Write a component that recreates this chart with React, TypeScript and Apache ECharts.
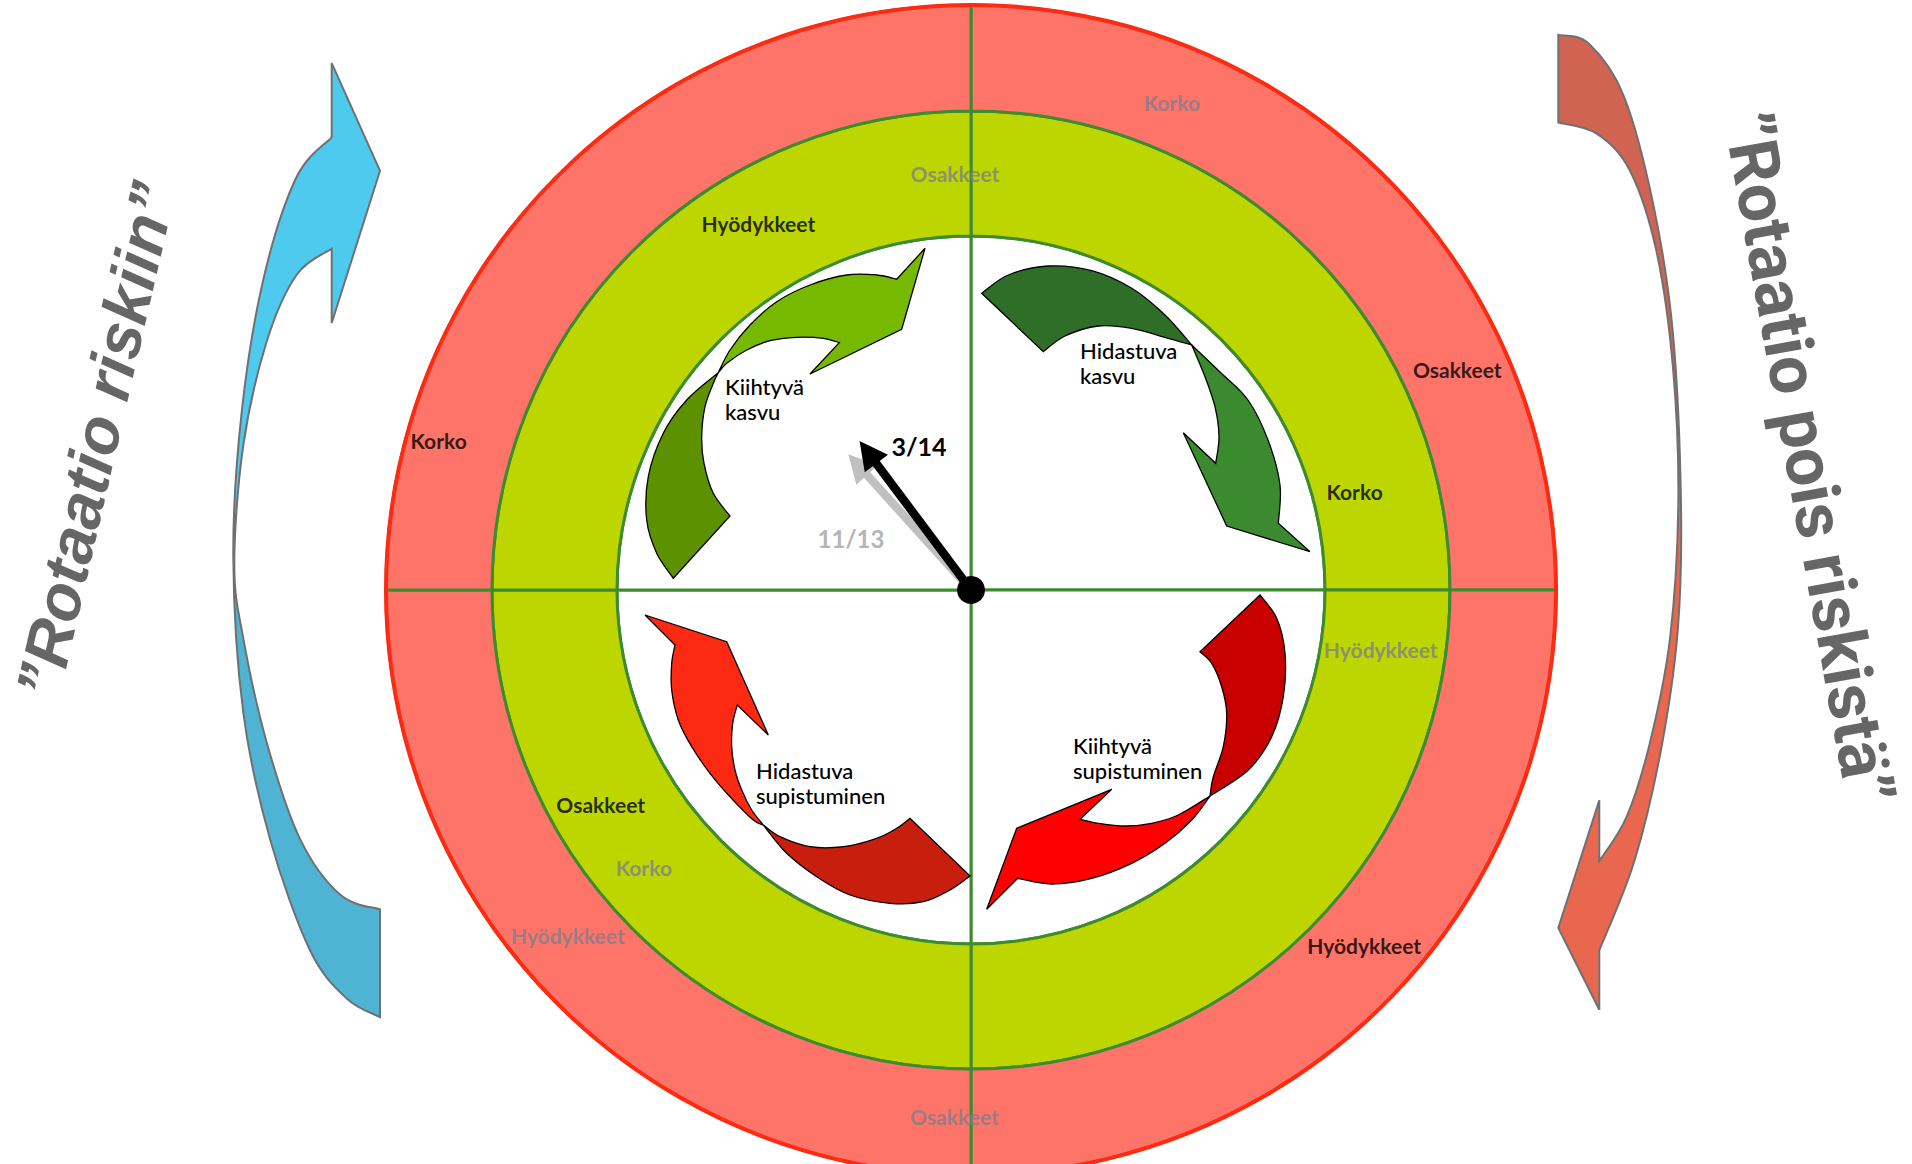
import React, { useEffect, useRef } from 'react';
import * as echarts from 'echarts';

// ---------- data ----------
const ringNames = ['Keskus', 'Sisärengas', 'Ulkorengas'];
const quadrantNames = ['Hidastuva kasvu', 'Kiihtyvä supistuminen', 'Hidastuva supistuminen', 'Kiihtyvä kasvu'];
const quadrantValues = [1, 1, 1, 1];

const assetNames = ['Korko', 'Osakkeet', 'Hyödykkeet', 'Osakkeet', 'Korko', 'Korko', 'Hyödykkeet', 'Osakkeet', 'Korko', 'Hyödykkeet', 'Hyödykkeet', 'Osakkeet'];
const assetAngles = [67.6, 92.2, 120.1, 24.4, 164.3, 14.4, 351.8, 210.1, 220.3, 220.6, 317.9, 268.2];
const assetRadii = [527, 417, 424, 534, 553, 396, 414, 428, 429, 531, 530, 527];
const assetHighlighted = [false, false, true, true, true, true, false, true, false, false, true, false];

const phaseNames = ['Kiihtyvä\nkasvu', 'Hidastuva\nkasvu', 'Kiihtyvä\nsupistuminen', 'Hidastuva\nsupistuminen'];

const handLabels = ['11/13', '3/14'];
const handAnglesDeg = [42.1, 36.8]; // counter-clockwise from 12 o'clock

const sideTexts = ['”Rotaatio riskiin”', '”Rotaatio pois riskistä”'];

// ---------- layout ----------
const CX = 971;
const CY = 590;
const RING_RADII: [number, number][] = [[0, 354], [354, 479], [479, 585]];
const RING_COLORS = ['#ffffff', '#bed600', '#fe7468'];
const LINE_GREEN = '#3e8b2f';
const GRAY_LABEL = '#7f7f8e';

const PHASE_POS: [number, number][] = [[725, 399], [1080, 363], [1073, 758], [756, 783]];
const HAND_LEN = [183, 186];
const HAND_COLORS = ['#c0c0c0', '#000000'];
const HAND_LABEL_POS: [number, number][] = [[851, 538], [919, 446]];
const SIDE_POS: [number, number, number, string][] = [
  [96, 440, 1.345, 'italic bold 64px "Liberation Sans", Arial, sans-serif'],
  [1808, 458, -1.393, 'bold 68px Roboto, "Liberation Sans", sans-serif'],
];

type P = [number, number];
type Seg = { t: 'L' | 'S'; p: P[] };

const ARROWS: { fill: any; stroke: string; lw: number; segs: Seg[] }[] = [
  // Kiihtyvä kasvu (dark tail)
  {
    fill: '#5e9100', stroke: '#000', lw: 1.3, segs: [
      { t: 'L', p: [[673.3, 578.3], [730, 516]] },
      { t: 'S', p: [[730, 516], [713.3, 493.3], [704, 463.3], [701.7, 436.7], [705, 406.7], [713.3, 383.3], [718.3, 372.7]] },
      { t: 'S', p: [[718.3, 372.7], [686.7, 400], [663.3, 433.3], [648.3, 476.7], [646.7, 520], [656.7, 553.3], [673.3, 578.3]] },
    ],
  },
  // Kiihtyvä kasvu (light head)
  {
    fill: '#77b800', stroke: '#000', lw: 1.3, segs: [
      { t: 'S', p: [[718.3, 372.7], [730, 350], [750, 325], [776.7, 301.7], [810, 285], [846.7, 275], [876.7, 275], [896.7, 279.3]] },
      { t: 'L', p: [[896.7, 279.3], [925, 248.3], [901.7, 329.3], [810, 374], [839.3, 342.7]] },
      { t: 'S', p: [[839.3, 342.7], [823.3, 338.3], [796.7, 337.3], [770, 340.7], [746.7, 350], [726.7, 363.3], [718.3, 372.7]] },
    ],
  },
  // Hidastuva kasvu (dark tail)
  {
    fill: '#2f6e28', stroke: '#000', lw: 1.3, segs: [
      { t: 'S', p: [[981.7, 293.3], [1008.3, 275], [1048.3, 266], [1091.7, 270.7], [1131.7, 288.3], [1165, 315], [1191.7, 345]] },
      { t: 'S', p: [[1191.7, 345], [1165, 337.3], [1131.7, 328.3], [1098.3, 326], [1065, 336], [1043.3, 351.7]] },
      { t: 'L', p: [[1043.3, 351.7], [981.7, 293.3]] },
    ],
  },
  // Hidastuva kasvu (head)
  {
    fill: '#3b8a30', stroke: '#000', lw: 1.3, segs: [
      { t: 'S', p: [[1191.7, 345], [1220, 372], [1248, 400], [1268, 440], [1280, 485], [1278.3, 523.3]] },
      { t: 'L', p: [[1278.3, 523.3], [1310, 551.7], [1226.7, 526], [1183.3, 432.7], [1215.7, 463.3]] },
      { t: 'S', p: [[1215.7, 463.3], [1219, 436.7], [1215, 406.7], [1205, 376.7], [1191.7, 345]] },
    ],
  },
  // Kiihtyvä supistuminen (dark tail)
  {
    fill: '#c80000', stroke: '#000', lw: 1.3, segs: [
      { t: 'S', p: [[1260, 595], [1276.7, 618.3], [1285, 653.3], [1283.3, 696.7], [1271.7, 736.7], [1248.3, 770], [1210, 796]] },
      { t: 'S', p: [[1210, 796], [1213.3, 776.7], [1223.3, 746.7], [1226.7, 713.3], [1221.7, 686.7], [1211.7, 663.3], [1200, 651.7]] },
      { t: 'L', p: [[1200, 651.7], [1260, 595]] },
    ],
  },
  // Kiihtyvä supistuminen (head)
  {
    fill: '#ff0000', stroke: '#000', lw: 1.3, segs: [
      { t: 'S', p: [[1210, 796], [1191.7, 820], [1165, 843.3], [1131.7, 863.3], [1091.7, 878.3], [1051.7, 884], [1017.7, 878.3]] },
      { t: 'L', p: [[1017.7, 878.3], [986.7, 909.3], [1016.7, 828.3], [1111.7, 789.3], [1080, 819.3]] },
      { t: 'S', p: [[1080, 819.3], [1098.3, 823.3], [1125, 826], [1151.7, 823.3], [1178.3, 815], [1210, 796]] },
    ],
  },
  // Hidastuva supistuminen (head)
  {
    fill: '#fc2a12', stroke: '#000', lw: 1.3, segs: [
      { t: 'L', p: [[645, 615], [726.7, 641.7], [768.3, 735], [737.3, 705]] },
      { t: 'S', p: [[737.3, 705], [732.7, 723.3], [731.7, 746.7], [735, 770], [741.7, 790], [751.7, 810], [763.3, 825]] },
      { t: 'S', p: [[763.3, 825], [753.3, 820], [730, 796.7], [710, 773.3], [691.7, 746.7], [678.3, 720], [671.7, 690], [671.7, 663.3], [675, 645]] },
      { t: 'L', p: [[675, 645], [645, 615]] },
    ],
  },
  // Hidastuva supistuminen (dark tail)
  {
    fill: '#c81e0e', stroke: '#000', lw: 1.3, segs: [
      { t: 'S', p: [[763.3, 825], [780, 836.7], [810, 846.7], [843.3, 846.7], [876.7, 838.3], [896.7, 828.3], [910, 818.3]] },
      { t: 'L', p: [[910, 818.3], [970, 876]] },
      { t: 'S', p: [[970, 876], [950, 890], [923.3, 901.7], [890, 903.3], [850, 895], [816.7, 876.7], [786.7, 853.3], [763.3, 825]] },
    ],
  },
  // left blue arrow
  {
    fill: {
      type: 'linear', x: 0, y: 0, x2: 0, y2: 1,
      colorStops: [
        { offset: 0, color: '#4fcaef' }, { offset: 0.52, color: '#4fcaef' },
        { offset: 0.52, color: '#4fb3d4' }, { offset: 1, color: '#4fb3d4' },
      ],
    },
    stroke: '#707070', lw: 2, segs: [
      { t: 'L', p: [[331.7, 63.1], [380, 170.8], [331.7, 323], [331.7, 248.7]] },
      { t: 'S', p: [[331.7, 248.7], [296.7, 274.7], [266.7, 341.5], [243.3, 445.4], [234.3, 564.2], [243.3, 638.5], [266.7, 742.4], [300, 838.9], [340, 894.6], [380, 909.4]] },
      { t: 'L', p: [[380, 909.4], [380, 1017.1]] },
      { t: 'S', p: [[380, 1017.1], [346.7, 998.5], [310, 950.3], [270, 838.9], [243.3, 712.7], [233.3, 556.8], [241.3, 415.7], [262.7, 282.1], [296, 178.2], [331.7, 137.3]] },
      { t: 'L', p: [[331.7, 137.3], [331.7, 63.1]] },
    ],
  },
  // right red arrow
  {
    fill: {
      type: 'linear', x: 0, y: 0, x2: 0, y2: 1,
      colorStops: [
        { offset: 0, color: '#d16352' }, { offset: 0.48, color: '#d16352' },
        { offset: 0.48, color: '#e9674f' }, { offset: 1, color: '#e9674f' },
      ],
    },
    stroke: '#707070', lw: 2, segs: [
      { t: 'S', p: [[1558.3, 34.9], [1588.7, 43.5], [1624, 96.5], [1654, 207.9], [1673, 334.1], [1681, 504.8], [1677.7, 631], [1661, 749.8], [1634.3, 861.2], [1599.3, 950.3]] },
      { t: 'L', p: [[1599.3, 950.3], [1599.3, 1009.7], [1558.3, 928], [1599.3, 800.3], [1599.3, 861.2]] },
      { t: 'S', p: [[1599.3, 861.2], [1626.7, 816.6], [1650, 742.4], [1670, 638.5], [1678.3, 504.8], [1673.3, 371.2], [1656.7, 252.4], [1630, 170.8], [1596.7, 133.6], [1558.3, 122.5]] },
      { t: 'L', p: [[1558.3, 122.5], [1558.3, 34.9]] },
    ],
  },
];

function f(n: number) {
  return n.toFixed(2);
}

function buildPath(segs: Seg[]): string {
  let d = '';
  segs.forEach((s, si) => {
    const pts = s.p;
    if (si === 0) d += `M${f(pts[0][0])} ${f(pts[0][1])}`;
    if (s.t === 'L') {
      for (let i = 1; i < pts.length; i++) d += ` L${f(pts[i][0])} ${f(pts[i][1])}`;
    } else {
      for (let i = 0; i < pts.length - 1; i++) {
        const p0 = pts[Math.max(0, i - 1)];
        const p1 = pts[i];
        const p2 = pts[i + 1];
        const p3 = pts[Math.min(pts.length - 1, i + 2)];
        const c1x = p1[0] + (p2[0] - p0[0]) / 6;
        const c1y = p1[1] + (p2[1] - p0[1]) / 6;
        const c2x = p2[0] - (p3[0] - p1[0]) / 6;
        const c2y = p2[1] - (p3[1] - p1[1]) / 6;
        d += ` C${f(c1x)} ${f(c1y)} ${f(c2x)} ${f(c2y)} ${f(p2[0])} ${f(p2[1])}`;
      }
    }
  });
  return d + ' Z';
}

export default function App() {
  const ref = useRef<HTMLDivElement>(null);

  useEffect(() => {
    const el = ref.current;
    if (!el) return;

    const graphics: any[] = [];

    // outer red border
    graphics.push({
      type: 'circle', z: 5, silent: true,
      shape: { cx: CX, cy: CY, r: 585 },
      style: { fill: 'none', stroke: '#ff2a12', lineWidth: 4 },
    });

    ARROWS.forEach((a, i) => {
      const name = 'cycleArrow' + i;
      echarts.graphic.registerShape(name, echarts.graphic.extendPath(buildPath(a.segs), {}));
      graphics.push({ type: name, z: 10, silent: true, style: { fill: a.fill, stroke: a.stroke, lineWidth: a.lw } });
    });

    // clock hands
    handLabels.forEach((lab, i) => {
      const a = (handAnglesDeg[i] * Math.PI) / 180;
      const ux = -Math.sin(a);
      const uy = -Math.cos(a);
      const L = HAND_LEN[i];
      const tx = CX + ux * L;
      const ty = CY + uy * L;
      const headLen = 28;
      const hw = 14.5;
      const bx = tx - ux * headLen;
      const by = ty - uy * headLen;
      const nx = -uy;
      const ny = ux;
      graphics.push({
        type: 'line', z: 11 + i, silent: true,
        shape: { x1: CX, y1: CY, x2: bx + ux * 3, y2: by + uy * 3 },
        style: { stroke: HAND_COLORS[i], lineWidth: 8.5 },
      });
      graphics.push({
        type: 'polygon', z: 11 + i, silent: true,
        shape: { points: [[tx, ty], [bx + nx * hw, by + ny * hw], [bx - nx * hw, by - ny * hw]] },
        style: { fill: HAND_COLORS[i] },
      });
      graphics.push({
        type: 'text', z: 14, silent: true,
        x: HAND_LABEL_POS[i][0], y: HAND_LABEL_POS[i][1],
        style: {
          text: lab, fill: i === 1 ? '#000000' : '#b5b5b5',
          fontFamily: 'Lato', fontWeight: 'bold', fontSize: i === 1 ? 25 : 24,
          align: 'center', verticalAlign: 'middle',
        },
      });
    });
    graphics.push({
      type: 'circle', z: 13, silent: true,
      shape: { cx: CX, cy: CY, r: 14 },
      style: { fill: '#000' },
    });

    phaseNames.forEach((t, i) => {
      graphics.push({
        type: 'text', z: 15, silent: true,
        x: PHASE_POS[i][0], y: PHASE_POS[i][1],
        style: {
          text: t, fill: '#000', fontFamily: 'Lato', fontWeight: 500, fontSize: 22, lineHeight: 25,
          align: 'left', verticalAlign: 'middle',
        },
      });
    });

    sideTexts.forEach((t, i) => {
      graphics.push({
        type: 'text', z: 10, silent: true,
        x: SIDE_POS[i][0], y: SIDE_POS[i][1], rotation: SIDE_POS[i][2],
        style: { text: t, fill: '#666666', font: SIDE_POS[i][3], align: 'center', verticalAlign: 'middle' },
      });
    });

    const ringSeries = ringNames.map((name, i) => ({
      type: 'pie',
      name,
      center: [CX, CY],
      radius: RING_RADII[i],
      startAngle: 90,
      clockwise: true,
      silent: true,
      z: 1,
      label: { show: false },
      labelLine: { show: false },
      emphasis: { disabled: true },
      itemStyle: { color: RING_COLORS[i], borderColor: LINE_GREEN, borderWidth: 3 },
      data: quadrantNames.map((q, j) => ({ name: q, value: quadrantValues[j] })),
    }));

    const chart = echarts.init(el, null, { renderer: 'svg' });
    chart.setOption({
      animation: false,
      backgroundColor: '#ffffff',
      polar: { center: [CX, CY], radius: 585 },
      angleAxis: {
        type: 'value', min: 0, max: 360, startAngle: 0, clockwise: false,
        axisLine: { show: false }, axisTick: { show: false }, axisLabel: { show: false }, splitLine: { show: false },
      },
      radiusAxis: {
        type: 'value', min: 0, max: 585,
        axisLine: { show: false }, axisTick: { show: false }, axisLabel: { show: false }, splitLine: { show: false },
      },
      series: [
        ...ringSeries,
        {
          type: 'scatter',
          coordinateSystem: 'polar',
          symbolSize: 1,
          silent: true,
          z: 6,
          itemStyle: { color: 'rgba(0,0,0,0)' },
          label: {
            show: true, position: 'inside', formatter: '{b}',
            fontFamily: 'Lato', fontWeight: 'bold', fontSize: 21,
          },
          data: assetNames.map((n, i) => ({
            name: n,
            value: [assetRadii[i], assetAngles[i]],
            label: { color: assetHighlighted[i] ? '#000000' : GRAY_LABEL },
          })),
        },
      ],
      graphic: { elements: graphics },
    });

    return () => {
      chart.dispose();
    };
  }, []);

  return (
    <div
      ref={ref}
      style={{ position: 'fixed', left: 0, top: 0, width: 1912, height: 1164, background: '#fff' }}
    />
  );
}
